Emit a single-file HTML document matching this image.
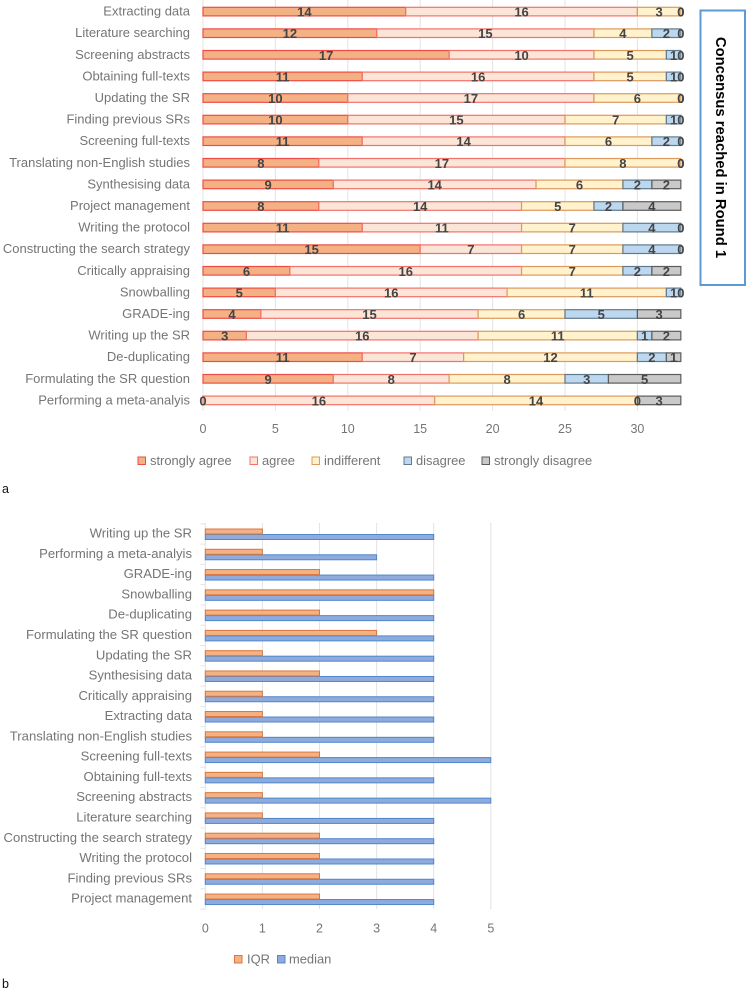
<!DOCTYPE html>
<html lang="en">
<head>
<meta charset="utf-8">
<title>Consensus charts</title>
<style>
html,body{margin:0;padding:0;background:#fff;width:746px;height:991px;overflow:hidden}
svg{display:block;font-family:"Liberation Sans",sans-serif}
</style>
</head>
<body>
<svg id="root" xmlns="http://www.w3.org/2000/svg" width="746" height="991" viewBox="0 0 746 991">
  <g id="chart-a"></g>
  <g id="chart-b"></g>
  <rect x="700.5" y="10.5" width="44.5" height="274.5" fill="#fff" stroke="#5b9bd5" stroke-width="2"/>
  <text transform="translate(720,147.5) rotate(90)" text-anchor="middle" dominant-baseline="central" font-size="14.8" font-weight="bold" fill="#000">Concensus reached in Round 1</text>
  <text x="2" y="493" font-size="12.5" fill="#111">a</text>
  <text x="2" y="988" font-size="12.5" fill="#111">b</text>
</svg>
<script>
const aCategories = ["Extracting data","Literature searching","Screening abstracts","Obtaining full-texts","Updating the SR","Finding previous SRs","Screening full-texts","Translating non-English studies","Synthesising data","Project management","Writing the protocol","Constructing the search strategy","Critically appraising","Snowballing","GRADE-ing","Writing up the SR","De-duplicating","Formulating the SR question","Performing a meta-analyis"];
const aStronglyAgree = [14,12,17,11,10,10,11,8,9,8,11,15,6,5,4,3,11,9,0];
const aAgree = [16,15,10,16,17,15,14,17,14,14,11,7,16,16,15,16,7,8,16];
const aIndifferent = [3,4,5,5,6,7,6,8,6,5,7,7,7,11,6,11,12,8,14];
const aDisagree = [0,2,1,1,0,1,2,0,2,2,4,4,2,1,5,1,2,3,0];
const aStronglyDisagree = [0,0,0,0,0,0,0,0,2,4,0,0,2,0,3,2,1,5,3];
const aTicks = [0,5,10,15,20,25,30];
const aSeriesNames = ["strongly agree","agree","indifferent","disagree","strongly disagree"];

const bCategories = ["Writing up the SR","Performing a meta-analyis","GRADE-ing","Snowballing","De-duplicating","Formulating the SR question","Updating the SR","Synthesising data","Critically appraising","Extracting data","Translating non-English studies","Screening full-texts","Obtaining full-texts","Screening abstracts","Literature searching","Constructing the search strategy","Writing the protocol","Finding previous SRs","Project management"];
const bIQR = [1,1,2,4,2,3,1,2,1,1,1,2,1,1,1,2,2,2,2];
const bMedian = [4,3,4,4,4,4,4,4,4,4,4,5,4,5,4,4,4,4,4];
const bTicks = [0,1,2,3,4,5];

const NS = "http://www.w3.org/2000/svg";
function mk(parent, tag, attrs, txt) {
  const el = document.createElementNS(NS, tag);
  for (const k in attrs) el.setAttribute(k, attrs[k]);
  if (txt !== undefined) el.textContent = txt;
  parent.appendChild(el);
  return el;
}
function slug(s) { return s.toLowerCase().replace(/[^a-z0-9]+/g, "-"); }

const GRID = "#e3e3e3", TXT = "#757575", VAL = "#444";
const aFills = ["#f4b183","#fbe5d6","#fff2cc","#bdd7ee","#c9c9c9"];
const aStrokes = ["#ef4b47","#f4716b","#dd9a5c","#5f7a8e","#5c5c5c"];
const aSeries = [aStronglyAgree,aAgree,aIndifferent,aDisagree,aStronglyDisagree];
const aLegendSwatchX = [138,250,312,404,482];

const ax = v => 203 + v * 14.48;
const ay = i => 11.6 + i * 21.6;
const gA = document.getElementById("chart-a");

aTicks.forEach(t => {
  const line = mk(gA, "line", {x1: ax(t), x2: ax(t), y1: 0, y2: 411, stroke: GRID, "stroke-width": 1});
  
  
  const label = mk(gA, "text", {x: ax(t), y: 433, "text-anchor": "middle", "font-size": 12.5, fill: TXT}, t);
  
  
});

aCategories.forEach((c, i) => {
  const label = mk(gA, "text", {x: 190, y: ay(i) + 4, "text-anchor": "end", "font-size": 13, fill: TXT}, c);
  
  
  let cum = 0;
  aSeries.forEach((s, k) => {
    const v = s[i];
    if (v > 0) {
      const bar = mk(gA, "rect", {x: ax(cum), y: ay(i) - 4.3, width: ax(cum + v) - ax(cum), height: 8.6, fill: aFills[k], stroke: aStrokes[k], "stroke-width": 1.2});
      
      
    }
    cum += v;
  });
  cum = 0;
  aSeries.forEach((s, k) => {
    const v = s[i];
    const val = mk(gA, "text", {x: ax(cum + v / 2), y: ay(i) + 5, "text-anchor": "middle", "font-size": 13, "font-weight": "bold", fill: VAL}, v);
    
    
    cum += v;
  });
});

aSeriesNames.forEach((n, k) => {
  const sw = mk(gA, "rect", {x: aLegendSwatchX[k], y: 457, width: 7.5, height: 7.5, fill: aFills[k], stroke: aStrokes[k], "stroke-width": 1});
  
  
  const label = mk(gA, "text", {x: aLegendSwatchX[k] + 12, y: 465, "font-size": 12.9, fill: TXT}, n);
  
  
});

const bx = v => 205.3 + v * 57.1;
const by = i => 534 + i * 20.28;
const gB = document.getElementById("chart-b");

bTicks.forEach(t => {
  const line = mk(gB, "line", {x1: bx(t), x2: bx(t), y1: 523, y2: 909, stroke: GRID, "stroke-width": 1});
  
  
  const label = mk(gB, "text", {x: bx(t), y: 932.5, "text-anchor": "middle", "font-size": 12.5, fill: TXT}, t);
  
  
});

for (let i = 0; i <= bCategories.length; i++) {
  const tick = mk(gB, "line", {x1: 200.5, x2: bx(0), y1: by(i) - 10.14, y2: by(i) - 10.14, stroke: GRID, "stroke-width": 1});
  
  
}

bCategories.forEach((c, i) => {
  const label = mk(gB, "text", {x: 192, y: by(i) + 3.6, "text-anchor": "end", "font-size": 13.1, fill: TXT}, c);
  
  
  const med = mk(gB, "rect", {x: bx(0), y: by(i) + 0.5, width: bx(bMedian[i]) - bx(0), height: 5, fill: "#8faadc", stroke: "#4f88cb", "stroke-width": 1});
  
  
  const iqr = mk(gB, "rect", {x: bx(0), y: by(i) - 5, width: bx(bIQR[i]) - bx(0), height: 5, fill: "#f4b183", stroke: "#d9773f", "stroke-width": 1});
  
  
});

const iqrSwatch = mk(gB, "rect", {x: 234.5, y: 955.5, width: 7.5, height: 7.5, fill: "#f4b183", stroke: "#d9773f", "stroke-width": 1});


const iqrLabel = mk(gB, "text", {x: 247, y: 963.5, "font-size": 12.9, fill: TXT}, "IQR");


const medSwatch = mk(gB, "rect", {x: 277.5, y: 955.5, width: 7.5, height: 7.5, fill: "#8faadc", stroke: "#4f88cb", "stroke-width": 1});


const medLabel = mk(gB, "text", {x: 289, y: 963.5, "font-size": 12.9, fill: TXT}, "median");


</script>
</body>
</html>
